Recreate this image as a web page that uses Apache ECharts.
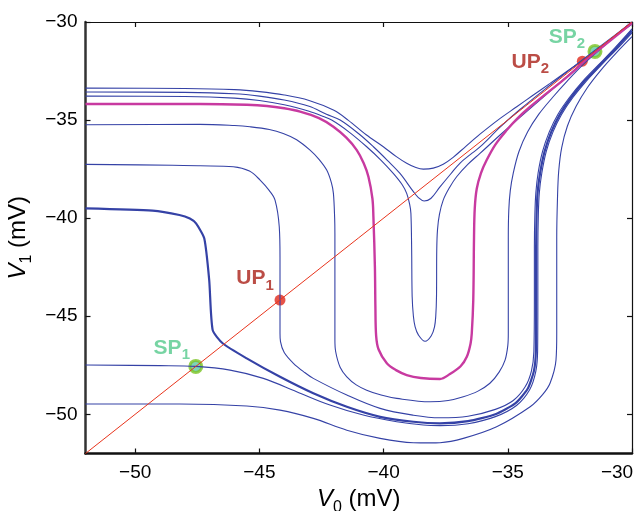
<!DOCTYPE html>
<html>
<head>
<meta charset="utf-8">
<script src="https://cdn.jsdelivr.net/npm/echarts@6/dist/echarts.min.js"></script>
<style>
  html, body { margin: 0; padding: 0; background: #fff; }
  #main { width: 643px; height: 511px; }
</style>
</head>
<body>
<div id="main"></div>
<script>
// tick labels
var xTicks = [-50, -45, -40, -35, -30];
var yTicks = [-50, -45, -40, -35, -30];

// trajectories, [V0, V1] in mV
var curveA = [[-52,-33.37],[-48,-33.39],[-46,-33.45],[-45,-33.55],[-44,-33.72],[-43,-34.0],[-42,-34.5],[-41.43,-35.0],[-40.7,-35.75],[-40.01,-36.36],[-39.5,-36.85],[-39.07,-37.2],[-38.7,-37.42],[-38.4,-37.5],[-38.0,-37.45],[-37.6,-37.25],[-37.2,-36.9],[-36.7,-36.35],[-36.12,-35.72],[-35.4,-35.0],[-34.64,-34.32],[-34,-33.75],[-33.3,-33.13],[-32.6,-32.5],[-31.96,-31.94],[-31.4,-31.45],[-30.88,-30.92],[-30.4,-30.42],[-30,-30]];
var curveB = [[-52,-33.57],[-48,-33.59],[-46,-33.66],[-45,-33.78],[-44,-33.98],[-43,-34.3],[-42.3,-34.7],[-41.75,-35.0],[-41.0,-35.7],[-40.41,-36.36],[-39.85,-37.05],[-39.34,-37.72],[-38.8,-38.65],[-38.6,-38.95],[-38.37,-39.13],[-38.1,-39.0],[-37.73,-38.41],[-37.3,-37.75],[-36.92,-37.19],[-36.5,-36.75],[-36.12,-36.37],[-35.3,-35.35],[-34.5,-34.45],[-33.5,-33.42],[-32.5,-32.43],[-31.5,-31.45],[-30.7,-30.68],[-30,-30]];
var curveC = [[-52,-33.78],[-48,-33.8],[-46,-33.88],[-45,-34.0],[-44,-34.22],[-43,-34.55],[-42.5,-34.78],[-42.09,-35.0],[-41.4,-35.6],[-40.68,-36.36],[-40.1,-37.05],[-39.61,-37.72],[-39.25,-38.3],[-39.07,-38.74],[-38.95,-39.3],[-38.9,-39.76],[-38.87,-41.63],[-38.85,-44.0],[-38.8,-45.0],[-38.73,-45.54],[-38.6,-45.95],[-38.33,-46.28],[-38.08,-46.0],[-37.95,-45.54],[-37.9,-45.0],[-37.87,-44.0],[-37.86,-41.63],[-37.83,-40.6],[-37.75,-39.8],[-37.6,-39.08],[-37.35,-38.45],[-37.06,-37.89],[-36.6,-37.25],[-36.12,-36.7],[-35.3,-35.75],[-34.5,-34.85],[-33.5,-33.75],[-32.5,-32.65],[-31.5,-31.57],[-30.7,-30.72],[-30,-30]];
var curveM = [[-52,-34.18],[-47.39,-34.18],[-45.5,-34.22],[-44.7,-34.28],[-44,-34.4],[-43.36,-34.57],[-42.6,-34.9],[-42.02,-35.34],[-41.5,-35.9],[-41.08,-36.53],[-40.8,-37.2],[-40.61,-37.89],[-40.45,-39.0],[-40.41,-39.93],[-40.35,-42.48],[-40.33,-44.5],[-40.3,-46.0],[-40.2,-46.7],[-39.87,-47.4],[-39.5,-47.75],[-39.07,-48.0],[-38.5,-48.15],[-37.73,-48.2],[-37.33,-47.95],[-36.9,-47.55],[-36.65,-47.07],[-36.5,-46.4],[-36.45,-45.87],[-36.39,-44.18],[-36.36,-41],[-36.33,-39.5],[-36.25,-38.5],[-36.08,-37.7],[-35.85,-37.04],[-35.5,-36.25],[-35.04,-35.51],[-34.6,-34.9],[-34.1,-34.32],[-33.4,-33.6],[-32.77,-32.96],[-32.3,-32.45],[-32.0,-32.08],[-31.5,-31.57],[-30.8,-30.87],[-30,-30.05]];
var curveD = [[-52,-35.24],[-47.39,-35.22],[-46,-35.28],[-45.38,-35.34],[-44.6,-35.48],[-44.04,-35.68],[-43.5,-36.0],[-42.96,-36.53],[-42.6,-37.0],[-42.29,-37.55],[-42.1,-38.2],[-42.02,-38.74],[-41.97,-40.0],[-41.96,-40.78],[-41.96,-46.2],[-41.93,-46.8],[-41.75,-47.6],[-41.48,-48.09],[-41.1,-48.5],[-40.68,-48.77],[-40.1,-49.02],[-39.47,-49.19],[-38.13,-49.36],[-37.4,-49.3],[-36.79,-49.11],[-36.2,-48.82],[-35.72,-48.42],[-35.35,-47.85],[-35.11,-47.24],[-35.0,-46.5],[-34.98,-45.87],[-34.98,-41],[-34.96,-39.6],[-34.9,-38.6],[-34.78,-37.7],[-34.55,-36.6],[-34.2,-35.6],[-33.75,-34.7],[-33.2,-33.85],[-32.6,-33.0],[-31.95,-32.15],[-31.2,-31.3],[-30.6,-30.65],[-30,-30.12]];
var curveE = [[-52,-37.26],[-48.5,-37.3],[-47.39,-37.33],[-46.05,-37.38],[-45.4,-37.6],[-44.97,-38.06],[-44.6,-38.6],[-44.37,-39.08],[-44.2,-40.44],[-44.17,-42],[-44.17,-45.87],[-44.15,-46.3],[-44.0,-46.85],[-43.63,-47.4],[-43.2,-47.85],[-42.83,-48.17],[-41.48,-49.02],[-40.14,-49.7],[-38.8,-50.05],[-37.73,-50.18],[-36.6,-50.1],[-35.5,-49.75],[-34.78,-49.3],[-34.3,-48.6],[-34.05,-47.8],[-33.95,-46.8],[-33.93,-44.2],[-33.93,-41.5],[-33.91,-39.8],[-33.87,-38.7],[-33.78,-37.7],[-33.6,-36.6],[-33.33,-35.6],[-32.98,-34.7],[-32.52,-33.85],[-31.97,-33.0],[-31.36,-32.2],[-30.7,-31.33],[-30,-30.35]];
var curveT = [[-52,-39.5],[-49.3,-39.62],[-48.22,-39.84],[-47.8,-40.02],[-47.55,-40.27],[-47.22,-41.03],[-47.02,-43.16],[-46.88,-45.71],[-46.48,-46.38],[-45.51,-47.15],[-44.17,-48.09],[-42.83,-48.93],[-41.48,-49.62],[-40.14,-50.13],[-38.8,-50.38],[-37.73,-50.46],[-36.6,-50.35],[-35.5,-50.0],[-34.7,-49.45],[-34.2,-48.7],[-33.95,-47.8],[-33.87,-46.8],[-33.86,-44.2],[-33.86,-41.5],[-33.84,-39.8],[-33.8,-38.7],[-33.7,-37.7],[-33.52,-36.6],[-33.25,-35.6],[-32.9,-34.7],[-32.45,-33.85],[-31.9,-33.0],[-31.3,-32.2],[-30.65,-31.35],[-30,-30.45]];
var curveF = [[-52,-47.49],[-49,-47.52],[-47.56,-47.56],[-46.18,-47.75],[-44.84,-48.17],[-43.5,-48.85],[-42.16,-49.53],[-40.82,-50.04],[-39.47,-50.38],[-38.4,-50.55],[-37.73,-50.58],[-36.6,-50.48],[-35.5,-50.12],[-34.65,-49.55],[-34.12,-48.75],[-33.87,-47.8],[-33.8,-46.8],[-33.79,-44.2],[-33.79,-41.5],[-33.77,-39.8],[-33.73,-38.7],[-33.63,-37.7],[-33.45,-36.6],[-33.18,-35.6],[-32.83,-34.7],[-32.38,-33.85],[-31.83,-33.0],[-31.24,-32.2],[-30.6,-31.37],[-30,-30.55]];
var curveG = [[-52,-49.48],[-48.2,-49.48],[-45.51,-49.58],[-44.17,-49.79],[-42.83,-50.21],[-41.48,-50.81],[-40.14,-51.23],[-38.8,-51.45],[-38.13,-51.46],[-37.73,-51.45],[-36.79,-51.23],[-35.45,-50.64],[-34.1,-49.62],[-33.6,-49.0],[-33.3,-48.42],[-33.06,-47.24],[-33.03,-45.87],[-33.03,-41],[-33.0,-39],[-32.95,-37.6],[-32.83,-36.4],[-32.6,-35.3],[-32.25,-34.3],[-31.8,-33.35],[-31.25,-32.45],[-30.65,-31.6],[-30,-30.75]];
var diagLine = [[-52,-52],[-30,-30]];

// fixed points
var spPoints = [[-47.56,-47.56],[-31.49,-31.5]];
var spNames = ['1','2'];
var upPoints = [[-44.17,-44.18],[-32.0,-32.0]];
var upNames = ['1','2'];

var blue = '#3542a6';
var magenta = '#c83aa0';
var font = 'Liberation Sans';

function minus(v) {
    return String(v).replace('-', '\u2212');
}

// last x label sits left of its tick so it stays inside the picture
function xLabel(v) {
    if (v === -30) return '{r|' + minus(v) + '}';
    return minus(v);
}

function lineSeries(data, color, width, smooth) {
    return {
        type: 'line',
        data: data,
        showSymbol: false,
        smooth: smooth,
        silent: true,
        lineStyle: {color: color, width: width}
    };
}

function pointLabel(color, offset) {
    return {
        show: true,
        position: 'inside',
        offset: offset,
        formatter: function (p) { return '{m|' + p.data.tag + '}{s|' + p.data.sub + '}'; },
        rich: {
            m: {fontFamily: font, fontSize: 21, fontWeight: 'bold', color: color, lineHeight: 22, verticalAlign: 'top'},
            s: {fontFamily: font, fontSize: 15, fontWeight: 'bold', color: color, lineHeight: 15, verticalAlign: 'top', padding: [10, 0, 0, 0]}
        }
    };
}

function initChart() {
    var myChart = echarts.init(document.getElementById('main'), null, {renderer: 'canvas'});

    var spLabelOffsets = [[-24, -18], [-28, -14]];
    var upLabelOffsets = [[-25, -21], [-52, 1]];

    var spData = spPoints.map(function (p, i) {
        return {value: p, tag: 'SP', sub: spNames[i], label: pointLabel('#55c98c', spLabelOffsets[i])};
    });
    var upData = upPoints.map(function (p, i) {
        return {value: p, tag: 'UP', sub: upNames[i], label: pointLabel('#aa2118', upLabelOffsets[i])};
    });

    var axisName = {
        fontFamily: font,
        rich: {
            i: {fontFamily: font, fontSize: 24, fontStyle: 'italic', color: '#000', lineHeight: 25, verticalAlign: 'top'},
            s: {fontFamily: font, fontSize: 16, color: '#000', lineHeight: 16, verticalAlign: 'top', padding: [12, 0, 0, 0]},
            n: {fontFamily: font, fontSize: 24, color: '#000', lineHeight: 25, verticalAlign: 'top'}
        }
    };

    var option = {
        animation: false,
        backgroundColor: '#fff',
        grid: {left: 85.5, right: 11, top: 22, bottom: 57.5, containLabel: false, outerBoundsMode: 'none'},
        xAxis: [{
            type: 'value', min: -52, max: -30, position: 'bottom',
            name: '{i|V}{s|0}{n| (mV)}', nameLocation: 'middle', nameGap: 32,
            nameTextStyle: axisName,
            axisLine: {show: true, onZero: false, lineStyle: {color: '#111', width: 2.5}},
            axisTick: {show: true, inside: true, length: 5, customValues: xTicks, lineStyle: {color: '#111', width: 1.2}},
            axisLabel: {
                customValues: xTicks, formatter: xLabel, fontFamily: font, fontSize: 19, color: '#000', margin: 10,
                rich: {r: {fontFamily: font, fontSize: 19, color: '#000', padding: [0, 30, 0, 0]}}
            },
            splitLine: {show: false}
        }, {
            type: 'value', min: -52, max: -30, position: 'top',
            axisLine: {show: true, onZero: false, lineStyle: {color: '#111', width: 1.2}},
            axisTick: {show: true, inside: true, length: 5, customValues: xTicks, lineStyle: {color: '#111', width: 1.2}},
            axisLabel: {show: false, customValues: xTicks},
            splitLine: {show: false}
        }],
        yAxis: [{
            type: 'value', min: -52, max: -30, position: 'left',
            name: '{i|V}{s|1}{n| (mV)}', nameLocation: 'middle', nameGap: 50,
            nameTextStyle: axisName,
            axisLine: {show: true, onZero: false, lineStyle: {color: '#333', width: 2.5}},
            axisTick: {show: true, inside: true, length: 5, customValues: yTicks, lineStyle: {color: '#111', width: 1.2}},
            axisLabel: {customValues: yTicks, formatter: minus, fontFamily: font, fontSize: 19, color: '#000', margin: 8},
            splitLine: {show: false}
        }, {
            type: 'value', min: -52, max: -30, position: 'right',
            axisLine: {show: true, onZero: false, lineStyle: {color: '#111', width: 1.2}},
            axisTick: {show: true, inside: true, length: 5, customValues: yTicks, lineStyle: {color: '#111', width: 1.2}},
            axisLabel: {show: false, customValues: yTicks},
            splitLine: {show: false}
        }],
        series: [
            lineSeries(curveG, blue, 1.1, 0.35),
            lineSeries(curveF, blue, 1.1, 0.35),
            lineSeries(curveE, blue, 1.1, 0.35),
            lineSeries(curveD, blue, 1.1, 0.35),
            lineSeries(curveC, blue, 1.1, 0.35),
            lineSeries(curveB, blue, 1.1, 0.35),
            lineSeries(curveA, blue, 1.1, 0.35),
            lineSeries(curveT, blue, 2.2, 0.2),
            lineSeries(curveM, magenta, 2.4, 0.35),
            lineSeries(diagLine, '#e8341c', 1, false),
            {
                type: 'scatter', data: upData, symbolSize: 11, silent: true,
                itemStyle: {color: '#e0281c'}
            },
            {
                type: 'scatter', data: spData, symbolSize: 12, silent: true,
                itemStyle: {color: '#5fc8a8', borderColor: '#7cc424', borderWidth: 3}
            }
        ]
    };
    myChart.setOption(option);
}

initChart();
</script>
</body>
</html>
